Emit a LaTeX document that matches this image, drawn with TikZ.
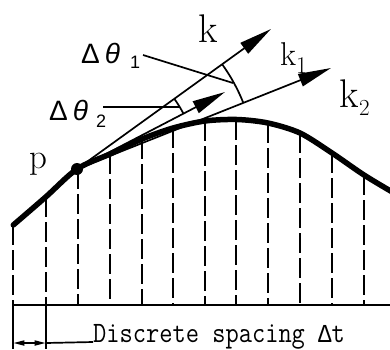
\documentclass[tikz,border=0pt]{standalone}
\usepackage{fontspec}
\newfontfamily\lsans{Liberation Sans}
\newfontfamily\lmono{Liberation Mono}
\usetikzlibrary{arrows.meta}

\begin{document}
\begin{tikzpicture}[x=1pt,y=-1pt,
  ray/.style={line width=1.7pt,-{Triangle[length=33pt,width=13pt]}},
  thin/.style={line width=1.7pt},
  grid/.style={line width=1.9pt,dash pattern=on 20pt off 5pt},
  klbl/.style={inner sep=0pt,anchor=base west},
  anglbl/.style={inner sep=0pt,anchor=base west,font=\lsans}]
\useasboundingbox (0,0) rectangle (390,349);
% sampled curve
\draw[line width=5.5pt,line cap=round] plot[smooth] coordinates {(13.3,225) (45.7,197) (77,169) (110,154) (142,139) (173,128) (205,121) (237,119.5) (268,123) (300,133) (332,153) (364,175) (394,193)};
% discrete samples
\foreach \x/\y in {13.3/225,45.7/197,77.7/169,110/154,141.7/139,173/128,204.7/121,236.3/120,268.3/123,300/133,332/153,363.7/175}
  \draw[grid] (\x,\y) -- (\x,305);
\draw[thin] (13.3,305) -- (390,305);
\draw[thin] (13.3,305) -- (13.3,349); \draw[thin] (45.7,305) -- (45.7,349);
% point p and directions
\node[circle,fill,inner sep=0pt,minimum size=12pt] (p) at (77,169) {};
\node[klbl,font=\fontsize{35}{35}\selectfont] (plbl) at (29.5,168) {p};
\coordinate (ktip) at (271,29);
\coordinate (katip) at (331,68);
\coordinate (kbtip) at (225,92);
\draw[ray] (p.center) -- (ktip);
\draw[ray] (p.center) -- (katip);
\draw[ray] (p.center) -- (kbtip);
\node[klbl,font=\fontsize{40}{40}\selectfont] (k) at (198.5,42) {k};
\node[klbl,font=\fontsize{33}{33}\selectfont] (ka) at (280,65) {k\raisebox{-8pt}{\fontsize{24}{24}\selectfont 1}};
\node[klbl,font=\fontsize{40}{40}\selectfont] (kb) at (339.5,107) {k\raisebox{-8pt}{\fontsize{23}{23}\selectfont 2}};
% angles
\draw[thin] (p.center) ++(-35.8:179) arc[start angle=-35.8,end angle=-21.7,radius=179];
\draw[thin] (p.center) ++(-35.8:120) arc[start angle=-35.8,end angle=-27.5,radius=120];
\node[anglbl] (dta) at (81,63) {\fontsize{28}{28}\selectfont Δ\hspace{5pt}\textit{θ}\hspace{10pt}\raisebox{-5pt}{\fontsize{18}{18}\selectfont 1}};
\node[anglbl] (dtb) at (49,120) {\fontsize{28}{28}\selectfont Δ\hspace{5pt}\textit{θ}\hspace{8pt}\raisebox{-7pt}{\fontsize{18}{18}\selectfont 2}};
\coordinate (la) at (143,55); \coordinate (ma) at (233,83);
\coordinate (lb) at (103,107); \coordinate (mb) at (180,107);
\draw[thin] (la) -- (ma);
\draw[thin] (lb) -- (mb);
% spacing
\coordinate (da) at (13.3,343); \coordinate (db) at (45.7,343);
\draw[thin,{Triangle[length=11pt,width=5pt]}-{Triangle[length=11pt,width=5pt]}] (da) -- (db);
\node[klbl,font=\ttfamily\fontsize{25.7}{26}\selectfont] (dtxt) at (93,342) {\scalebox{1}[1.15]{Discrete spacing {\lmono\fontsize{22.5}{22.5}\selectfont Δ}t}};
\draw[thin] (db) -- (dtxt.base west);
\end{tikzpicture}
\end{document}
